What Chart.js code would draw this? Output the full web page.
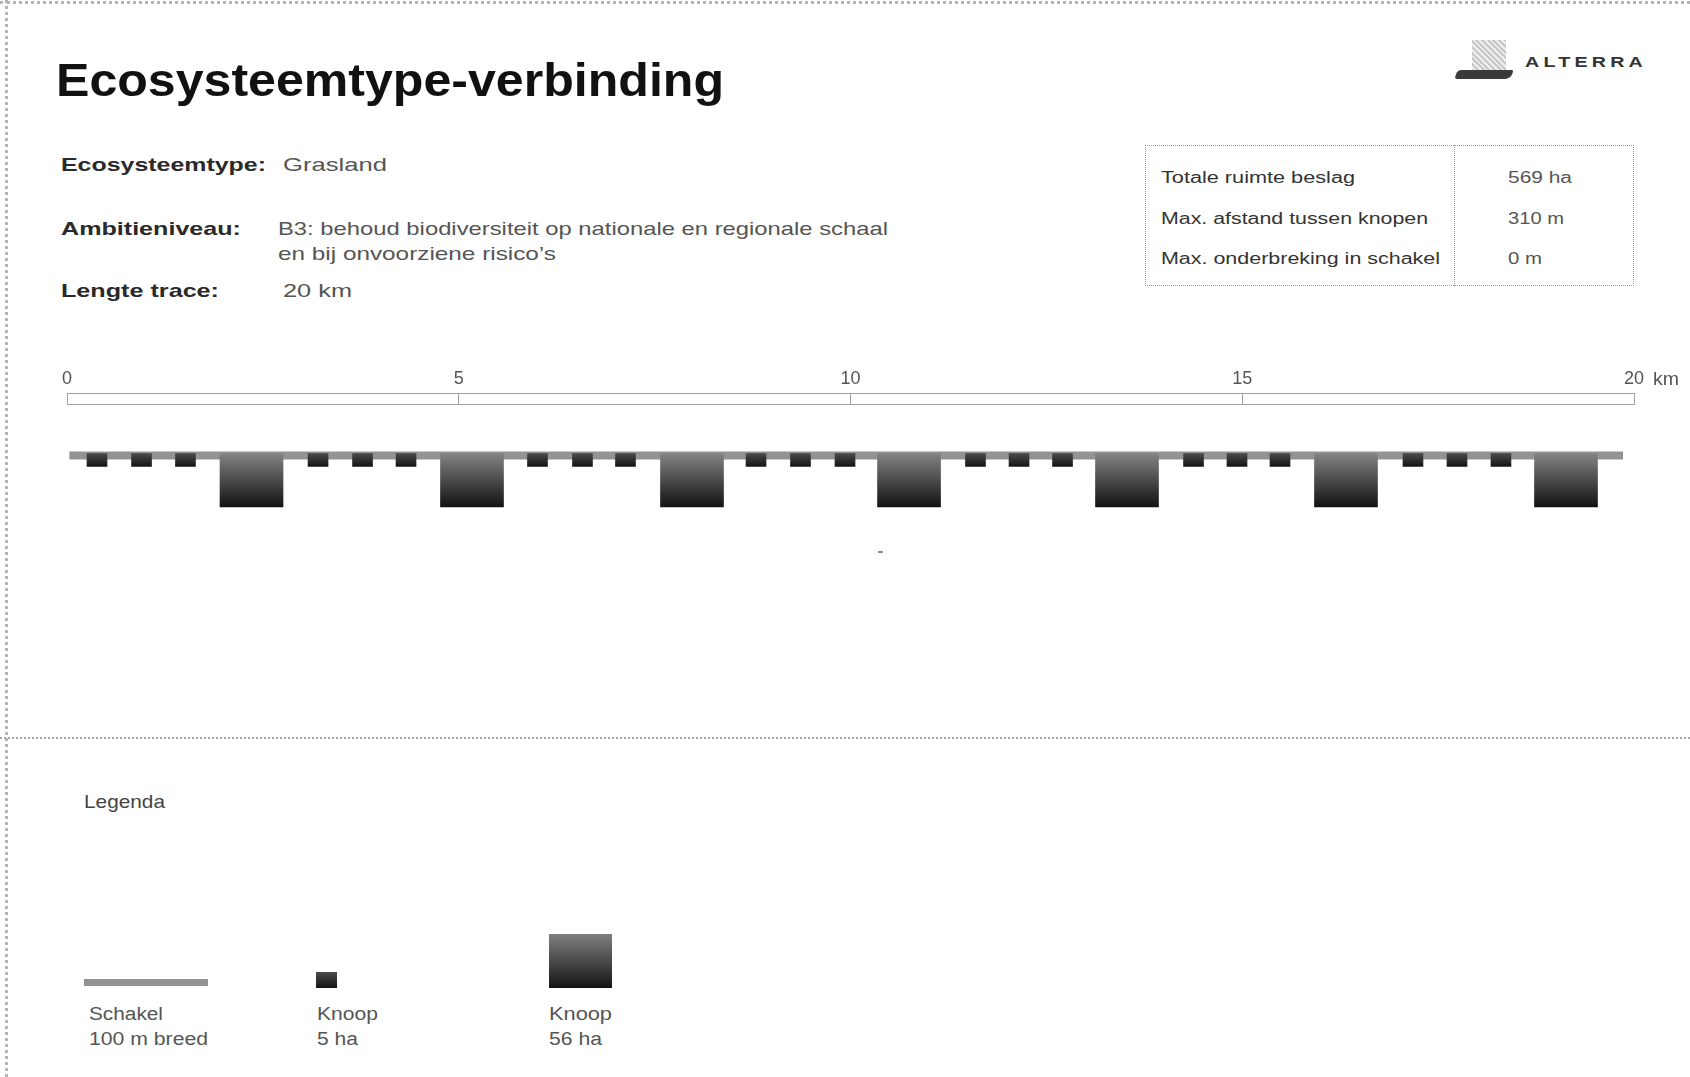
<!DOCTYPE html>
<html><head><meta charset="utf-8">
<script src="https://cdn.jsdelivr.net/npm/chart.js@4.4.1/dist/chart.umd.min.js"></script>
<style>
html,body{margin:0;padding:0;background:#fff;}
body{width:1690px;height:1077px;position:relative;overflow:hidden;font-family:"Liberation Sans",Arial,sans-serif;}
.t{position:absolute;white-space:nowrap;line-height:1;transform-origin:0 0;}
.abs{position:absolute;}
#borderTop{left:0;top:1px;width:1690px;height:0;border-top:3px dotted #b5b5b5;}
#borderLeft{left:5px;top:0;width:0;height:1077px;border-left:3px dotted #b5b5b5;}
#sep{left:0;top:737px;width:1690px;height:0;border-top:2px dotted #a8a8a8;}
#tbl{left:1145px;top:145px;width:487px;height:139px;border:1px dotted #9a9a9a;}
#tblDiv{left:1454px;top:145px;width:0;height:141px;border-left:1px dotted #9a9a9a;}
</style></head><body>
<div class="abs" id="borderTop"></div>
<div class="abs" id="borderLeft"></div>
<div class="abs" id="sep"></div>
<div class="abs" id="tbl"></div>
<div class="abs" id="tblDiv"></div>
<!-- logo -->
<div class="abs" style="left:1472px;top:40px;width:34px;height:31px;background:repeating-linear-gradient(45deg,#c8c8c8 0 2px,#eeeeee 2px 4px);"></div>
<div class="abs" style="left:1456px;top:70px;width:56px;height:9px;background:#3a3a3a;border-radius:4px 2px 5px 3px;transform:skewX(-20deg);"></div>
<div class="abs" style="left:878px;top:551px;width:5px;height:2px;background:#8a8a8a;"></div>
<canvas id="trace" class="abs" style="left:0;top:340px;" width="1690" height="180"></canvas>
<script>
// ---- data ----
const TRACE_KM = 20;
const SCALE_TICKS_KM = [0, 5, 10, 15, 20];
const SCALE_TICK_LABELS = ['0', '5', '10', '15', '20'];
const SCHAKEL_KM = [0.03, 19.86];                 // start / end of the link band
const LARGE_NODE_KM = [2.355, 5.169, 7.977, 10.747, 13.529, 16.324, 19.132];   // Knoop 56 ha (centres)
const SMALL_NODE_KM = [0.383, 0.951, 1.512, 3.204, 3.772, 4.327, 6.005, 6.579, 7.128,
                       8.794, 9.362, 9.930, 11.595, 12.151, 12.706, 14.378, 14.933, 15.482,
                       17.179, 17.741, 18.302];                                  // Knoop 5 ha (centres)
const TABLE_LABELS = ['Totale ruimte beslag', 'Max. afstand tussen knopen', 'Max. onderbreking in schakel'];
const TABLE_VALUES = ['569 ha', '310 m', '0 m'];

// ---- text layout (left, baseline, font size, target width) ----
const TEXTS = [
  {s:'Ecosysteemtype-verbinding', x:56, b:96, f:46, w:668, bold:true, c:'#111'},
  {s:'Ecosysteemtype:', x:61, b:171, f:19, w:205, bold:true, c:'#2a2a2a'},
  {s:'Grasland', x:283, b:171, f:19, w:104, c:'#555'},
  {s:'Ambitieniveau:', x:61, b:235, f:19, w:180, bold:true, c:'#2a2a2a'},
  {s:'B3: behoud biodiversiteit op nationale en regionale schaal', x:278, b:235, f:19, w:610, c:'#555'},
  {s:'en bij onvoorziene risico\u2019s', x:278, b:260, f:19, w:278, c:'#555'},
  {s:'Lengte trace:', x:61, b:297, f:19, w:158, bold:true, c:'#2a2a2a'},
  {s:'20 km', x:283, b:297, f:19, w:69, c:'#555'},
  {s:TABLE_LABELS[0], x:1161, b:184, f:16, w:194, c:'#333'},
  {s:TABLE_LABELS[1], x:1161, b:225, f:16, w:267, c:'#333'},
  {s:TABLE_LABELS[2], x:1161, b:265, f:16, w:279, c:'#333'},
  {s:TABLE_VALUES[0], x:1508, b:184, f:16, w:64, c:'#555'},
  {s:TABLE_VALUES[1], x:1508, b:225, f:16, w:56, c:'#555'},
  {s:TABLE_VALUES[2], x:1508, b:265, f:16, w:34, c:'#555'},
  {s:'ALTERRA', x:1525, b:67, f:14, w:122, bold:true, c:'#333', ls:'3px'},
  {s:'km', x:1653, b:385, f:18, w:26, c:'#555'},
  {s:'Legenda', x:84, b:808, f:19, w:81, c:'#444'},
  {s:'Schakel', x:89, b:1020, f:18, w:74, c:'#555'},
  {s:'100 m breed', x:89, b:1045, f:18, w:119, c:'#555'},
  {s:'Knoop', x:317, b:1020, f:18, w:61, c:'#555'},
  {s:'5 ha', x:317, b:1045, f:18, w:41, c:'#555'},
  {s:'Knoop', x:549, b:1020, f:18, w:63, c:'#555'},
  {s:'56 ha', x:549, b:1045, f:18, w:53, c:'#555'}
];
TEXTS.forEach(o => {
  const d = document.createElement('div');
  d.className = 't';
  d.textContent = o.s;
  d.style.fontSize = o.f + 'px';
  d.style.fontWeight = o.bold ? 'bold' : 'normal';
  d.style.color = o.c;
  if (o.ls) d.style.letterSpacing = o.ls;
  d.style.left = o.x + 'px';
  d.style.top = (o.b - 0.8465 * o.f) + 'px';
  document.body.appendChild(d);
  const nat = d.getBoundingClientRect().width;
  if (o.w && nat > 0) d.style.transform = 'scaleX(' + (o.w / nat) + ')';
});

// legend swatches
function sw(l,t,w,h,bg){const d=document.createElement('div');d.className='abs';
  Object.assign(d.style,{left:l+'px',top:t+'px',width:w+'px',height:h+'px',background:bg});document.body.appendChild(d);}
sw(84,979,124,7,'#939393');
sw(316,972,21,16,'linear-gradient(#4a4a4a,#141414)');
sw(549,934,63,54,'linear-gradient(#808080,#141414)');

const FONT = 'Liberation Sans';
const LINE_GREY = '#a0a0a0';
const setTicks = a => { a.ticks = SCALE_TICKS_KM.map(v => ({ value: v })); };

// vertical layout inside the chart area (pixels below the scale bar)
const NODE_TOP = 50, SMALL_BOTTOM = 63, LARGE_BOTTOM = 104, BAND_Y = 52, AREA_H = 108;
function grad(top, bottom, c0, c1) {
  return ctx => {
    const ch = ctx.chart;
    if (!ch.chartArea) return c1;
    const y = ch.scales.y;
    const g = ch.ctx.createLinearGradient(0, y.getPixelForValue(top), 0, y.getPixelForValue(bottom));
    g.addColorStop(0, c0); g.addColorStop(1, c1);
    return g;
  };
}
new Chart(document.getElementById('trace'), {
  type: 'bar',
  data: {
    datasets: [
      { type: 'line', label: 'Schakel 100 m breed',
        data: SCHAKEL_KM.map(km => ({ x: km, y: BAND_Y })),
        borderColor: '#939393', borderWidth: 8, pointRadius: 0, borderCapStyle: 'butt', order: 3 },
      { label: 'Knoop 56 ha',
        data: LARGE_NODE_KM.map(km => ({ x: km, y: [NODE_TOP, LARGE_BOTTOM] })),
        barThickness: 63, grouped: false, backgroundColor: grad(NODE_TOP, LARGE_BOTTOM, '#838383', '#121212'), order: 1 },
      { label: 'Knoop 5 ha',
        data: SMALL_NODE_KM.map(km => ({ x: km, y: [NODE_TOP, SMALL_BOTTOM] })),
        barThickness: 20, grouped: false, backgroundColor: grad(NODE_TOP, SMALL_BOTTOM, '#4a4a4a', '#141414'), order: 1 }
    ]
  },
  options: {
    responsive: false, animation: false, devicePixelRatio: 1,
    layout: { padding: { left: 67, right: 56, top: 25.4, bottom: 9 } },
    plugins: { legend: { display: false }, tooltip: { enabled: false } },
    scales: {
      // scale bar: tick marks between the two lines
      x: { type: 'linear', position: 'top', weight: 0, min: 0, max: TRACE_KM, offset: false,
           afterBuildTicks: setTicks,
           ticks: { display: false },
           grid: { offset: false, drawOnChartArea: false, drawTicks: true, tickLength: 11, color: LINE_GREY, lineWidth: 1 },
           border: { display: true, color: LINE_GREY, width: 1 } },
      // scale bar: upper line + km labels
      xLabels: { type: 'linear', position: 'top', weight: 1, min: 0, max: TRACE_KM, offset: false,
           afterBuildTicks: setTicks,
           ticks: { callback: (v, i) => SCALE_TICK_LABELS[i], autoSkip: false, maxRotation: 0,
                    font: { family: FONT, size: 18 }, color: '#555', padding: 3 },
           grid: { offset: false, display: false, drawTicks: false },
           border: { display: true, color: LINE_GREY, width: 1 } },
      y: { type: 'linear', min: 0, max: AREA_H, reverse: true, display: false }
    }
  }
});
</script>
</body></html>
